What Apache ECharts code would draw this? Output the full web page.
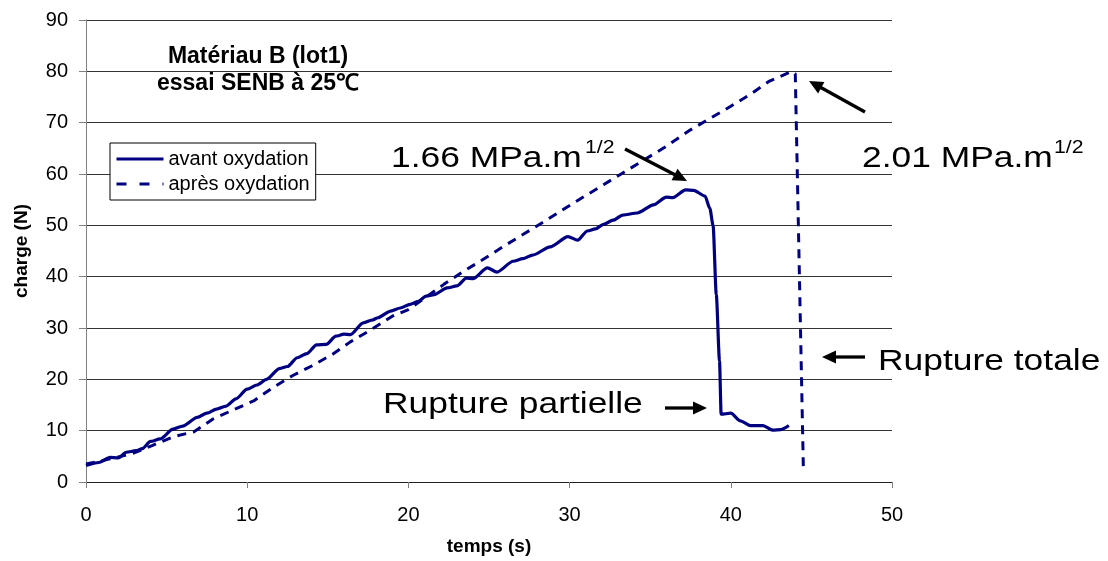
<!DOCTYPE html>
<html><head><meta charset="utf-8">
<script src="https://cdn.jsdelivr.net/npm/echarts@6/dist/echarts.min.js"></script>
<style>html,body{margin:0;padding:0;background:#fff}#c{width:1108px;height:561px}</style>
</head><body><div id="c"></div>
<script>
// temps (s) / charge (N) – avant oxydation
const avantT = [0,0.8,1.5,2.0,2.5,3.1,3.5,4.0,4.6,5.4,6.0,6.9,7.5,8.1,8.7,9.3,10.0,10.6,11.2,12.0,12.5,13.1,13.7,14.3,14.9,15.5,16.0,16.4,17.2,17.8,18.1,18.9,19.5,20.1,20.6,21.1,21.6,22.4,23.0,23.6,24.0,24.9,25.5,26.5,27.1,27.7,28.8,29.9,30.5,31.1,31.6,32.1,32.7,33.3,34.2,35.2,36.0,36.4,37.2,37.7,38.4,38.7,38.9,39.1,39.3,39.4,40.0,40.6,41.2,42.0,42.6,43.1,43.6];
const avantN = [3.2,3.8,4.8,4.7,5.8,6.1,6.5,7.9,8.4,10.3,10.9,12.6,13.4,14.2,14.8,16.2,18.1,18.9,20.0,22.1,22.5,24.2,25.0,26.7,26.8,28.4,28.8,28.7,31.0,31.6,32.0,33.3,33.9,34.6,35.2,36.2,36.5,37.8,38.2,39.7,39.6,41.7,40.9,43.0,43.5,44.2,45.8,47.8,47.1,48.9,49.3,50.2,51.0,52.0,52.4,54.0,55.5,55.4,56.9,56.8,55.7,53.3,50.0,36.5,23.6,13.2,13.4,11.9,11.0,11.0,10.1,10.2,11.0];
// après oxydation
const apresT = [0,1.5,2.85,4.1,5.4,6.7,7.9,9.1,10.4,11.6,12.8,14.0,15.3,16.4,17.7,19.0,20.0,21.0,22.2,23.4,24.6,25.9,27.1,28.4,29.6,30.9,32.1,33.4,34.6,35.9,37.5,38.7,40.0,41.2,42.4,43.8,44.0,44.5];
const apresN = [3.5,4.5,5.5,7.1,8.8,9.8,12.3,14.0,15.8,18.4,20.7,22.6,24.9,27.3,29.7,32.3,33.6,35.8,38.5,41.0,43.3,45.9,48.2,50.7,53.1,55.6,57.9,60.4,62.7,65.2,68.6,70.8,73.2,75.5,78.1,80.0,79.5,2.9];
const seriesNames = ['avant oxydation', 'après oxydation'];
const titleLines = ['Matériau B (lot1)', 'essai SENB à 25℃'];
const xName = 'temps (s)';
const yName = 'charge (N)';

const FONT = '"Liberation Sans", Arial, Helvetica, sans-serif';
const NAVY = '#000080';
const zip = (a, b) => a.map((v, i) => [v, b[i]]);

function arrow(x1, y1, x2, y2) {
  const dx = x2 - x1, dy = y2 - y1, L = Math.hypot(dx, dy), ux = dx / L, uy = dy / L;
  const hl = 14, hw = 6.5;
  const bx = x2 - ux * hl, by = y2 - uy * hl;
  return [
    { type: 'line', shape: { x1, y1, x2: bx + ux, y2: by + uy }, style: { stroke: '#000', lineWidth: 3.3 }, z: 10 },
    { type: 'polygon', shape: { points: [[x2, y2], [bx - uy * hw, by + ux * hw], [bx + uy * hw, by - ux * hw]] }, style: { fill: '#000' }, z: 10 }
  ];
}
function label(text, x, y, size) {
  return { type: 'text', x, y, scaleX: 1.18, z: 10,
    style: { text, fontSize: size, fontFamily: FONT, fill: '#000', verticalAlign: 'middle', align: 'left' } };
}

const chart = echarts.init(document.getElementById('c'));
chart.setOption({
  animation: false,
  backgroundColor: '#fff',
  title: {
    text: titleLines.join('\n'), left: 253, top: 38, textAlign: 'center',
    textStyle: { fontSize: 23, fontWeight: 'bold', fontFamily: FONT, color: '#000', lineHeight: 27 }
  },
  legend: {
    data: [
      { name: seriesNames[0] },
      { name: seriesNames[1], lineStyle: { type: [10, 13], width: 3 } }
    ],
    orient: 'vertical', left: 110, top: 143,
    itemWidth: 47, itemHeight: 14, itemGap: 5, padding: [6, 6, 6, 5],
    borderColor: '#000', borderWidth: 1, backgroundColor: '#fff',
    itemStyle: { opacity: 0 },
    lineStyle: { width: 3 },
    textStyle: { fontSize: 20, fontFamily: FONT, color: '#000' }
  },
  grid: { left: 86, right: 216, top: 20, bottom: 76, containLabel: false },
  xAxis: {
    type: 'value', min: 0, max: 50, interval: 10,
    name: xName, nameLocation: 'middle', nameGap: 55,
    nameTextStyle: { fontSize: 19, fontWeight: 'bold', fontFamily: FONT, color: '#000' },
    axisLine: { lineStyle: { color: '#222', width: 1 } },
    axisTick: { show: true, length: 6, lineStyle: { color: '#808080' } },
    axisLabel: { fontSize: 20, fontFamily: FONT, color: '#000', margin: 23 },
    splitLine: { show: false }
  },
  yAxis: {
    type: 'value', min: 0, max: 90, interval: 10,
    name: yName, nameLocation: 'middle', nameGap: 55,
    nameTextStyle: { fontSize: 19, fontWeight: 'bold', fontFamily: FONT, color: '#000' },
    axisLine: { show: true, lineStyle: { color: '#808080', width: 1 } },
    axisTick: { show: true, length: 7, lineStyle: { color: '#808080' } },
    axisLabel: { fontSize: 20, fontFamily: FONT, color: '#000', margin: 18 },
    splitLine: { show: true, lineStyle: { color: '#333', width: 1 } }
  },
  series: [
    { name: seriesNames[0], type: 'line', data: zip(avantT, avantN), showSymbol: false, symbol: 'none',
      smooth: 0.25, smoothMonotone: 'x',
      lineStyle: { color: NAVY, width: 3.2 }, itemStyle: { color: NAVY }, z: 3 },
    { name: seriesNames[1], type: 'line', data: zip(apresT, apresN), showSymbol: false, symbol: 'none',
      lineStyle: { color: NAVY, width: 3, type: [9, 7] }, itemStyle: { color: NAVY }, z: 2 }
  ],
  graphic: [
    ...arrow(625, 149, 687, 181),
    ...arrow(865, 112, 809, 81),
    ...arrow(865, 357, 822, 357),
    ...arrow(665, 408, 707, 408),
    label('1.66 MPa.m', 391, 159, 30),
    label('1/2', 585, 148, 18),
    label('2.01 MPa.m', 862, 159, 30),
    label('1/2', 1054, 148, 18),
    label('Rupture partielle', 383, 405, 30),
    label('Rupture totale', 878, 362, 30)
  ]
});
</script></body></html>
